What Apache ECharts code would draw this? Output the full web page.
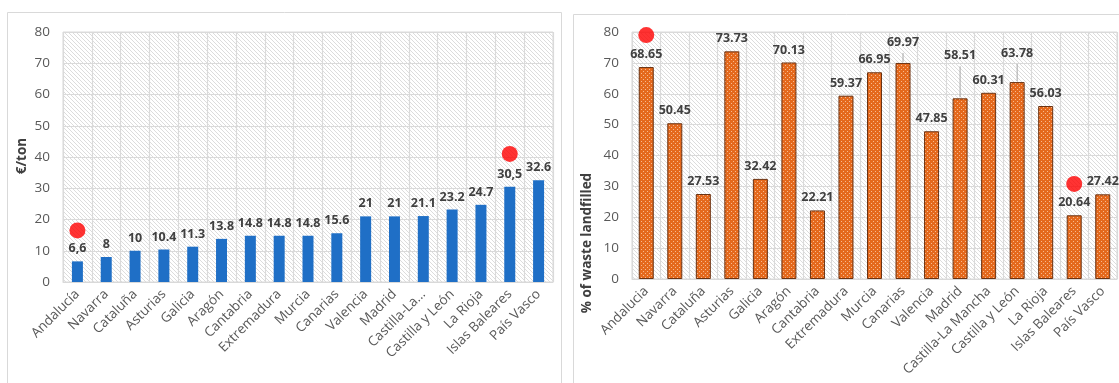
<!DOCTYPE html>
<html>
<head>
<meta charset="utf-8">
<script src="https://cdn.jsdelivr.net/npm/echarts@6/dist/echarts.min.js"></script>
<style>
  html, body { margin: 0; padding: 0; background: #fff; }
  #chart { width: 1119px; height: 383px; }
</style>
</head>
<body>
<div id="chart"></div>
<script>
// Landfill tax (€/ton) by region
var costRegions = ['Andalucía', 'Navarra', 'Cataluña', 'Asturias', 'Galicia', 'Aragón', 'Cantabria',
  'Extremadura', 'Murcia', 'Canarias', 'Valencia', 'Madrid', 'Castilla-La...', 'Castilla y León',
  'La Rioja', 'Islas Baleares', 'País Vasco'];
var costValues = [6.6, 8, 10, 10.4, 11.3, 13.8, 14.8, 14.8, 14.8, 15.6, 21, 21, 21.1, 23.2, 24.7, 30.5, 32.6];
var costLabels = ['6,6', '8', '10', '10.4', '11.3', '13.8', '14.8', '14.8', '14.8', '15.6', '21', '21',
  '21.1', '23.2', '24.7', '30,5', '32.6'];
// highlighted regions (red markers)
var costMarks = [['Andalucía', 16.5], ['Islas Baleares', 41]];

// Share of municipal waste landfilled by region
var shareRegions = ['Andalucia', 'Navarra', 'Cataluña', 'Asturias', 'Galicia', 'Aragón', 'Cantabria',
  'Extremadura', 'Murcia', 'Canarias', 'Valencia', 'Madrid', 'Castilla-La Mancha', 'Castilla y León',
  'La Rioja', 'Islas Baleares', 'País Vasco'];
var shareValues = [68.65, 50.45, 27.53, 73.73, 32.42, 70.13, 22.21, 59.37, 66.95, 69.97, 47.85, 58.51,
  60.31, 63.78, 56.03, 20.64, 27.42];
var shareMarks = [['Andalucia', 79], ['Islas Baleares', 30.8]];
// labels raised above their bar (px) and joined to it by a leader line
var shareLift = { 9: 8, 11: 30, 13: 16 };

var yTicks = { min: 0, max: 80, interval: 10 };

var LABEL_GAP = 6;

function hatch() {
  var c = document.createElement('canvas');
  c.width = 4; c.height = 4;
  var g = c.getContext('2d');
  g.fillStyle = '#ffffff';
  g.fillRect(0, 0, 4, 4);
  g.strokeStyle = '#dcdcdc';
  g.lineWidth = 1;
  g.beginPath();
  for (var k = -4; k <= 4; k += 4) {
    g.moveTo(k, 0); g.lineTo(k + 4, 4);
  }
  g.stroke();
  return { image: c, repeat: 'repeat' };
}

function dots() {
  var c = document.createElement('canvas');
  c.width = 4; c.height = 4;
  var g = c.getContext('2d');
  g.fillStyle = '#e4691d';
  g.fillRect(0, 0, 4, 4);
  g.fillStyle = '#f7b98f';
  g.fillRect(1, 1, 1, 1);
  g.fillRect(3, 3, 1, 1);
  return { image: c, repeat: 'repeat' };
}

var FONT = 'Open Sans';
var axisTxt = { color: '#595959', fontSize: 13.5, fontFamily: FONT };
var valTxt = { color: '#404040', fontSize: 12.5, fontWeight: 'bold', fontFamily: FONT };

function xAxis(idx, cats) {
  return {
    type: 'category', gridIndex: idx, data: cats,
    axisLine: { lineStyle: { color: '#d9d9d9' } },
    axisTick: { show: false },
    axisLabel: Object.assign({ rotate: 45, interval: 0, margin: 10 }, axisTxt),
    splitLine: { show: true, interval: 0, lineStyle: { color: '#dadada', width: 1.2 } }
  };
}
function yAxis(idx) {
  return {
    type: 'value', gridIndex: idx, min: yTicks.min, max: yTicks.max, interval: yTicks.interval,
    axisLine: { show: false }, axisTick: { show: false },
    axisLabel: Object.assign({ margin: 13 }, axisTxt),
    splitLine: { lineStyle: { color: '#dadada', width: 1.2 } }
  };
}

var leaderData = [];
shareValues.forEach(function (v, i) {
  if (shareLift[i]) leaderData.push([i, v, shareLift[i]]);
});

var chart = echarts.init(document.getElementById('chart'), null, { renderer: 'canvas' });
chart.setOption({
  animation: false,
  backgroundColor: '#ffffff',
  grid: [
    { left: 63, top: 32, width: 490, height: 250, show: true, backgroundColor: hatch(), borderColor: '#dadada', borderWidth: 1 },
    { left: 632, top: 32, width: 485, height: 247, show: true, backgroundColor: hatch(), borderColor: '#dadada', borderWidth: 1 }
  ],
  xAxis: [xAxis(0, costRegions), xAxis(1, shareRegions)],
  yAxis: [yAxis(0), yAxis(1)],
  graphic: [
    { type: 'rect', shape: { x: 7.5, y: 12.5, width: 554, height: 400 }, style: { fill: 'none', stroke: '#d9d9d9', lineWidth: 1 }, z: -10 },
    { type: 'rect', shape: { x: 573.5, y: 14.5, width: 560, height: 400 }, style: { fill: 'none', stroke: '#d9d9d9', lineWidth: 1 }, z: -10 },
    { type: 'text', x: 22, y: 156, rotation: Math.PI / 2,
      style: { text: '€/ton', align: 'center', verticalAlign: 'middle', fill: '#404040', font: 'bold 13.5px "Open Sans"' } },
    { type: 'text', x: 587, y: 243, rotation: Math.PI / 2,
      style: { text: '% of waste landfilled', align: 'center', verticalAlign: 'middle', fill: '#404040', font: 'bold 13.5px "Open Sans"' } }
  ],
  series: [
    {
      type: 'bar', xAxisIndex: 0, yAxisIndex: 0, barWidth: 11,
      itemStyle: { color: '#1f6fc6' },
      data: costValues,
      label: Object.assign({ show: true, position: 'top', distance: LABEL_GAP,
        formatter: function (p) { return costLabels[p.dataIndex]; } }, valTxt)
    },
    {
      type: 'scatter', xAxisIndex: 0, yAxisIndex: 0, symbolSize: 16, z: 5,
      itemStyle: { color: '#ff0000' },
      data: costMarks
    },
    {
      type: 'bar', xAxisIndex: 1, yAxisIndex: 1, barWidth: 15,
      itemStyle: { color: dots(), borderColor: '#6a3212', borderWidth: 1 },
      data: shareValues,
      label: Object.assign({ show: true, position: 'top', distance: LABEL_GAP }, valTxt),
      labelLayout: function (p) {
        var d = shareLift[p.dataIndex];
        return d ? { dy: -d } : {};
      }
    },
    {
      // leader lines from raised labels down to their bars
      type: 'custom', xAxisIndex: 1, yAxisIndex: 1, silent: true, z: 10,
      encode: { x: 0, y: 1 },
      data: leaderData,
      renderItem: function (params, api) {
        var p = api.coord([api.value(0), api.value(1)]);
        var lift = api.value(2);
        return {
          type: 'line',
          shape: { x1: p[0], y1: p[1] - 1, x2: p[0], y2: p[1] - lift - 2 },
          style: { stroke: '#a6a6a6', lineWidth: 1 }
        };
      }
    },
    {
      type: 'scatter', xAxisIndex: 1, yAxisIndex: 1, symbolSize: 16, z: 5,
      itemStyle: { color: '#ff0000' },
      data: shareMarks
    }
  ]
});
</script>
</body>
</html>
